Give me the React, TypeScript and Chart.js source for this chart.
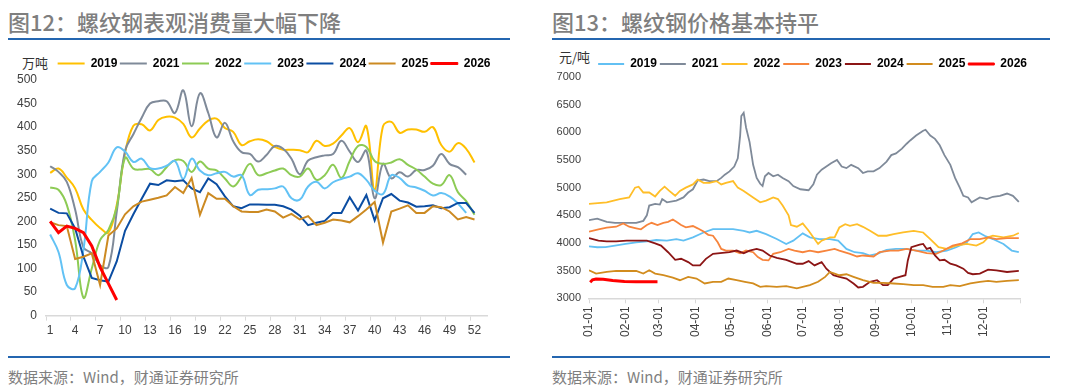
import { useEffect, useRef } from "react";
import { Chart, registerables } from "chart.js";
Chart.register(...registerables);

// ---------- Left chart: apparent consumption (万吨), weeks ----------
const weekLabels = Array.from({ length: 53 }, (_, i) => String(i + 1));
const consYears = ["2019", "2021", "2022", "2023", "2024", "2025", "2026"];
const consColors = ["#FFC000", "#7F8A99", "#8DCB55", "#62C2F5", "#0B4DA2", "#CC8A22", "#FF0000"];
const consSmooth = [true, true, true, true, false, false, false];

const cons2019 = [303, 312, 293, 270, 225, 203, 186, 176, 235, 345, 403, 406, 393, 415, 422, 420, 407, 378, 397, 414, 418, 398, 390, 362, 370, 374, 370, 358, 352, 352, 351, 347, 371, 360, 365, 382, 398, 368, 402, 268, 402, 411, 388, 395, 395, 390, 400, 362, 348, 366, 354, 325];
const cons2021 = [317, 305, 284, 225, 145, 132, 107, 103, 220, 350, 385, 420, 450, 455, 455, 430, 478, 402, 472, 430, 378, 409, 370, 347, 343, 327, 341, 360, 354, 333, 300, 329, 336, 340, 343, 371, 348, 326, 350, 249, 322, 291, 304, 295, 309, 309, 318, 343, 322, 315, 299];
const cons2022 = [272, 267, 235, 160, 38, 100, 160, 182, 230, 335, 312, 310, 311, 298, 315, 330, 328, 305, 327, 312, 308, 291, 274, 295, 322, 298, 302, 308, 312, 298, 295, 312, 288, 298, 320, 292, 328, 360, 358, 328, 322, 325, 332, 320, 310, 295, 280, 277, 298, 262, 243, 214];
const cons2023 = [172, 135, 65, 58, 140, 285, 305, 325, 357, 348, 326, 333, 313, 312, 318, 328, 290, 333, 308, 298, 302, 305, 295, 298, 256, 267, 268, 270, 274, 249, 246, 274, 284, 270, 283, 290, 295, 302, 288, 265, 258, 298, 292, 276, 272, 265, 255, 260, 253, 238, 218];
const cons2024 = [227, 218, 217, 185, 125, 80, 75, 72, 115, 180, 215, 248, 280, 277, 287, 285, 287, 270, 262, 291, 279, 253, 232, 228, 236, 236, 235, 235, 232, 225, 212, 192, 197, 201, 218, 218, 251, 223, 256, 202, 249, 258, 244, 240, 231, 232, 234, 228, 230, 239, 239, 218];
const cons2025 = [198, 192, 190, 120, 125, 132, 65, 170, 185, 215, 232, 242, 246, 250, 255, 273, 260, 292, 214, 260, 248, 248, 232, 221, 220, 220, 225, 221, 208, 216, 204, 211, 192, 197, 204, 202, 198, 211, 225, 241, 155, 221, 227, 234, 218, 218, 232, 230, 221, 204, 209, 204];
const cons2026 = [200, 176, 190, 185, 176, 148, 103, 68, 33];
const consSeries = [cons2019, cons2021, cons2022, cons2023, cons2024, cons2025, cons2026];

// ---------- Right chart: rebar price (元/吨), day of year ----------
const monthStartDays = [0, 31, 59, 90, 120, 151, 181, 212, 243, 273, 304, 334];
const monthLabels = ["01-01", "02-01", "03-01", "04-01", "05-01", "06-01", "07-01", "08-01", "09-01", "10-01", "11-01", "12-01"];
const yearEndDay = 365;

const priceYears = ["2019", "2021", "2022", "2023", "2024", "2025", "2026"];
const priceColors = ["#62C0F3", "#7F8A99", "#FFBE28", "#F7843C", "#8C1515", "#D28C1E", "#FF0000"];

const days2019 = [0, 7, 14, 22, 31, 40, 49, 57, 66, 74, 80, 88, 97, 105, 114, 122, 131, 136, 142, 150, 159, 167, 173, 181, 187, 195, 204, 211, 218, 225, 232, 238, 244, 252, 260, 269, 277, 286, 294, 303, 311, 320, 325, 330, 335, 342, 351, 358, 364];
const price2019 = [3940, 3923, 3925, 3952, 3982, 4012, 4030, 4054, 4042, 4071, 4042, 4101, 4190, 4250, 4250, 4250, 4220, 4190, 4220, 4161, 4071, 3982, 4042, 4173, 4101, 4071, 4071, 4042, 3893, 3833, 3815, 3774, 3804, 3875, 3893, 3893, 3863, 3863, 3833, 3863, 3923, 4012, 4161, 4190, 4131, 4071, 3982, 3863, 3833];
const days2021 = [0, 7, 15, 22, 29, 40, 46, 49, 51, 56, 60, 62, 66, 74, 80, 84, 88, 92, 97, 102, 108, 112, 115, 119, 123, 126, 128, 129, 131, 133, 136, 139, 142, 145, 147, 149, 152, 156, 160, 164, 169, 173, 179, 186, 190, 193, 197, 201, 205, 210, 214, 218, 222, 228, 232, 236, 241, 246, 252, 256, 260, 265, 269, 272, 277, 283, 285, 289, 293, 297, 301, 306, 310, 314, 317, 321, 324, 331, 337, 342, 348, 354, 359, 364];
const price2021 = [4412, 4441, 4382, 4365, 4365, 4365, 4400, 4500, 4676, 4706, 4694, 4794, 4735, 4765, 4824, 4912, 4971, 5130, 5147, 5118, 5118, 5176, 5235, 5294, 5382, 5529, 5941, 6294, 6353, 6088, 5823, 5412, 5176, 5070, 5029, 5206, 5265, 5206, 5235, 5176, 5118, 5029, 4971, 4953, 5059, 5235, 5324, 5382, 5441, 5500, 5382, 5353, 5412, 5353, 5265, 5294, 5294, 5353, 5471, 5588, 5618, 5706, 5794, 5853, 5941, 6029, 6047, 5941, 5882, 5765, 5588, 5412, 5176, 5000, 4853, 4824, 4735, 4824, 4794, 4835, 4853, 4894, 4853, 4745];
const days2022 = [0, 15, 26, 34, 39, 42, 46, 51, 56, 60, 64, 68, 73, 77, 82, 88, 92, 97, 102, 108, 112, 116, 122, 126, 131, 135, 139, 145, 150, 156, 160, 164, 169, 171, 176, 181, 186, 194, 197, 204, 208, 212, 217, 221, 227, 232, 238, 245, 252, 258, 266, 275, 283, 289, 296, 303, 311, 320, 328, 334, 338, 342, 351, 359, 364];
const price2022 = [4706, 4735, 4794, 4824, 5000, 5018, 4912, 4912, 4841, 4941, 5018, 4941, 4853, 4941, 5000, 5059, 5147, 5088, 5088, 5118, 5059, 5088, 5118, 5000, 4941, 4882, 4824, 4735, 4765, 4824, 4794, 4676, 4500, 4324, 4294, 4353, 4220, 3982, 4042, 4101, 4101, 4280, 4339, 4310, 4339, 4292, 4220, 4131, 4131, 4161, 4190, 4220, 4190, 4071, 3923, 3893, 3952, 3982, 3952, 4012, 4101, 4131, 4101, 4131, 4180];
const days2023 = [0, 8, 15, 23, 29, 34, 40, 44, 49, 53, 58, 63, 67, 71, 74, 78, 82, 88, 92, 97, 101, 105, 109, 112, 116, 122, 128, 133, 139, 143, 147, 152, 156, 162, 169, 174, 181, 187, 194, 201, 208, 212, 221, 227, 232, 241, 246, 255, 262, 269, 277, 286, 294, 300, 308, 316, 323, 331, 338, 345, 354, 364];
const price2023 = [4206, 4247, 4276, 4294, 4353, 4294, 4265, 4247, 4324, 4365, 4324, 4365, 4382, 4424, 4382, 4324, 4282, 4306, 4265, 4206, 4147, 4131, 4012, 3893, 3863, 3863, 3815, 3863, 3833, 3744, 3696, 3685, 3804, 3833, 3893, 3863, 3833, 3863, 3833, 3863, 3893, 3863, 3804, 3756, 3774, 3756, 3833, 3863, 3863, 3893, 3863, 3815, 3804, 3863, 3952, 3994, 4071, 4071, 4101, 4071, 4089, 4089];
const days2024 = [0, 8, 15, 23, 32, 40, 49, 56, 61, 67, 73, 78, 84, 88, 94, 99, 105, 111, 119, 125, 131, 136, 142, 147, 153, 159, 167, 176, 181, 186, 191, 197, 201, 207, 212, 218, 224, 228, 232, 238, 244, 249, 253, 258, 263, 268, 270, 273, 280, 283, 286, 289, 293, 297, 301, 306, 311, 317, 321, 325, 331, 338, 345, 354, 364];
const price2024 = [4089, 4042, 4030, 4030, 4042, 4042, 4042, 3994, 3952, 3833, 3696, 3714, 3655, 3595, 3595, 3714, 3804, 3815, 3833, 3863, 3815, 3863, 3893, 3863, 3774, 3732, 3696, 3625, 3625, 3673, 3595, 3655, 3536, 3417, 3387, 3357, 3268, 3196, 3208, 3298, 3327, 3238, 3238, 3357, 3387, 3417, 3685, 3923, 3970, 3982, 3893, 3911, 3774, 3685, 3696, 3625, 3595, 3536, 3458, 3435, 3446, 3518, 3506, 3476, 3494];
const days2025 = [0, 6, 15, 23, 32, 40, 46, 51, 56, 63, 71, 77, 84, 91, 98, 105, 112, 118, 125, 132, 139, 145, 150, 159, 167, 176, 181, 187, 194, 200, 204, 208, 212, 218, 224, 232, 241, 249, 258, 266, 275, 283, 291, 300, 306, 314, 323, 331, 338, 345, 354, 364];
const price2025 = [3506, 3446, 3476, 3494, 3494, 3494, 3446, 3506, 3446, 3417, 3375, 3327, 3387, 3357, 3268, 3298, 3298, 3357, 3327, 3298, 3268, 3208, 3220, 3208, 3220, 3179, 3208, 3238, 3298, 3387, 3476, 3446, 3417, 3435, 3387, 3327, 3280, 3280, 3268, 3256, 3238, 3238, 3208, 3208, 3238, 3220, 3268, 3298, 3315, 3298, 3315, 3327];
const days2026 = [1, 3, 6, 12, 20, 30, 40, 50, 58];
const price2026 = [3290, 3335, 3350, 3345, 3320, 3305, 3300, 3298, 3298];

const priceDays = [days2019, days2021, days2022, days2023, days2024, days2025, days2026];
const priceValues = [price2019, price2021, price2022, price2023, price2024, price2025, price2026];

// ---------- styling ----------
const BLUE = "#2466B0";
const AXIS_GRAY = "#D9D9D9";
const TICK_TEXT = "#404040";
const LATIN = '"Liberation Sans", Arial, sans-serif';
const CJK = '"Noto Sans CJK SC", "Noto Sans", sans-serif';

// Legend sizing / offset helper plugin
const legendTweak = {
  id: "legendTweak",
  beforeInit(chart: any, _a: any, opts: any) {
    const lg = chart.legend;
    if (!lg) return;
    const orig = lg.fit.bind(lg);
    lg.fit = function () {
      orig();
      if (opts && opts.height != null) this.height = opts.height;
    };
  },
  afterLayout(chart: any, _a: any, opts: any) {
    const lg = chart.legend;
    if (lg && opts && opts.shiftX) {
      lg.left += opts.shiftX;
      lg.right += opts.shiftX;
    }
  },
};

function legendLabels(boxWidth: number, padding: number) {
  return {
    boxWidth,
    boxHeight: 2,
    padding,
    color: "#000",
    font: { family: LATIN, size: 12, weight: "bold" as const },
    generateLabels(chart: any) {
      const items = Chart.defaults.plugins.legend.labels.generateLabels(chart);
      return items
        .sort((a: any, b: any) => a.datasetIndex - b.datasetIndex)
        .map((it: any) => {
          const ds = chart.data.datasets[it.datasetIndex];
          const isLast = it.datasetIndex === chart.data.datasets.length - 1;
          return {
            ...it,
            fillStyle: ds.borderColor,
            strokeStyle: ds.borderColor,
            lineWidth: isLast ? 1 : 0,
            lineDash: [],
          };
        });
    },
  };
}

function ConsumptionChart() {
  const ref = useRef<HTMLCanvasElement | null>(null);
  useEffect(() => {
    if (!ref.current) return;
    const n = consSeries.length;
    const chart = new Chart(ref.current, {
      type: "line",
      data: {
        labels: weekLabels,
        datasets: consSeries.map((data, i) => ({
          label: consYears[i],
          data,
          borderColor: consColors[i],
          backgroundColor: consColors[i],
          borderWidth: i === n - 1 ? 3 : 2,
          pointRadius: 0,
          tension: consSmooth[i] ? 0.4 : 0,
          fill: false,
          order: n - i,
        })),
      },
      options: {
        animation: false,
        responsive: false,
        events: [],
        layout: { padding: { left: 0, right: 6, top: 0, bottom: 4 } },
        plugins: {
          legend: { position: "top", align: "end", labels: legendLabels(27, 2.5) },
          tooltip: { enabled: false },
          legendTweak: { height: 25, shiftX: 6 },
        } as any,
        scales: {
          x: {
            type: "category",
            offset: true,
            grid: {
              display: true,
              offset: true,
              drawOnChartArea: false,
              drawTicks: true,
              tickLength: 5,
              lineWidth: 1,
              color: (ctx: any) => (ctx.index % 3 === 0 ? AXIS_GRAY : "rgba(0,0,0,0)"),
            },
            border: { display: true, color: AXIS_GRAY, width: 1.5 },
            ticks: {
              autoSkip: false,
              maxRotation: 0,
              minRotation: 0,
              padding: 3,
              color: TICK_TEXT,
              font: { family: LATIN, size: 12 },
              callback: (_v: any, idx: number) => (idx % 3 === 0 ? weekLabels[idx] : ""),
            },
          },
          y: {
            min: 0,
            max: 500,
            grid: { display: false, drawTicks: false },
            border: { display: false },
            ticks: { stepSize: 50, padding: 9, color: TICK_TEXT, font: { family: LATIN, size: 12 } },
            afterFit: (s: any) => {
              s.width = 38;
            },
          },
        },
      },
      plugins: [legendTweak],
    } as any);
    return () => chart.destroy();
  }, []);
  return <canvas ref={ref} width={485} height={290} style={{ position: "absolute", left: 8, top: 55 }} />;
}

function PriceChart() {
  const ref = useRef<HTMLCanvasElement | null>(null);
  useEffect(() => {
    if (!ref.current) return;
    const n = priceValues.length;
    const chart = new Chart(ref.current, {
      type: "line",
      data: {
        datasets: priceValues.map((vals, i) => ({
          label: priceYears[i],
          data: vals.map((v, k) => ({ x: priceDays[i][k], y: v })),
          borderColor: priceColors[i],
          backgroundColor: priceColors[i],
          borderWidth: i === n - 1 ? 3 : 1.8,
          pointRadius: 0,
          tension: 0,
          fill: false,
          order: n - i,
        })),
      },
      options: {
        animation: false,
        responsive: false,
        events: [],
        layout: { padding: { left: 0, right: 18, top: 0, bottom: 3 } },
        plugins: {
          legend: { position: "top", align: "end", labels: legendLabels(26, 3) },
          tooltip: { enabled: false },
          legendTweak: { height: 22, shiftX: 10 },
        } as any,
        scales: {
          x: {
            type: "linear",
            min: 0,
            max: yearEndDay,
            afterBuildTicks: (s: any) => {
              s.ticks = [...monthStartDays, yearEndDay].map((v) => ({ value: v }));
            },
            grid: {
              display: true,
              drawOnChartArea: false,
              drawTicks: true,
              tickLength: 5,
              lineWidth: 1,
              color: AXIS_GRAY,
            },
            border: { display: true, color: AXIS_GRAY, width: 1.5 },
            ticks: {
              autoSkip: false,
              minRotation: 90,
              maxRotation: 90,
              padding: 3,
              color: TICK_TEXT,
              font: { family: LATIN, size: 12 },
              callback: (v: any) => {
                const i = monthStartDays.indexOf(Number(v));
                return i >= 0 ? monthLabels[i] : "";
              },
            },
          },
          y: {
            min: 3000,
            max: 7000,
            grid: { display: false, drawTicks: false },
            border: { display: false },
            ticks: {
              stepSize: 500,
              padding: 8,
              color: TICK_TEXT,
              font: { family: LATIN, size: 11 },
              callback: (v: any) => String(v),
            },
            afterFit: (s: any) => {
              s.width = 37;
            },
          },
        },
      },
      plugins: [legendTweak],
    } as any);
    return () => chart.destroy();
  }, []);
  return <canvas ref={ref} width={486} height={288} style={{ position: "absolute", left: 552, top: 55 }} />;
}

const titleStyle = (left: number): React.CSSProperties => ({
  position: "absolute",
  left,
  top: 10,
  fontFamily: CJK,
  fontSize: 22,
  fontWeight: 500,
  lineHeight: "22px",
  color: "#7F7F7F",
  whiteSpace: "nowrap",
});
const sourceStyle = (left: number): React.CSSProperties => ({
  position: "absolute",
  left,
  top: 369,
  fontFamily: CJK,
  fontSize: 15,
  lineHeight: "15px",
  color: "#7F7F7F",
  whiteSpace: "nowrap",
});
const unitStyle = (left: number, top: number): React.CSSProperties => ({
  position: "absolute",
  left,
  top,
  fontFamily: CJK,
  fontSize: 13,
  lineHeight: "13px",
  color: "#333",
  whiteSpace: "nowrap",
});
const rule = (left: number, top: number, width: number): React.CSSProperties => ({
  position: "absolute",
  left,
  top,
  width,
  height: 2,
  background: BLUE,
});

export default function App() {
  return (
    <div style={{ position: "fixed", left: 0, top: 0, width: 1080, height: 388, background: "#fff", overflow: "hidden" }}>
      <div style={titleStyle(8)}>图12：螺纹钢表观消费量大幅下降</div>
      <div style={rule(8, 38, 502)} />
      <div style={unitStyle(22, 56)}>万吨</div>
      <ConsumptionChart />
      <div style={rule(8, 356, 502)} />
      <div style={sourceStyle(8)}>数据来源：Wind，财通证券研究所</div>

      <div style={titleStyle(552)}>图13：螺纹钢价格基本持平</div>
      <div style={rule(552, 38, 498)} />
      <div style={unitStyle(559, 50)}>元/吨</div>
      <PriceChart />
      <div style={rule(552, 356, 498)} />
      <div style={sourceStyle(552)}>数据来源：Wind，财通证券研究所</div>
    </div>
  );
}
